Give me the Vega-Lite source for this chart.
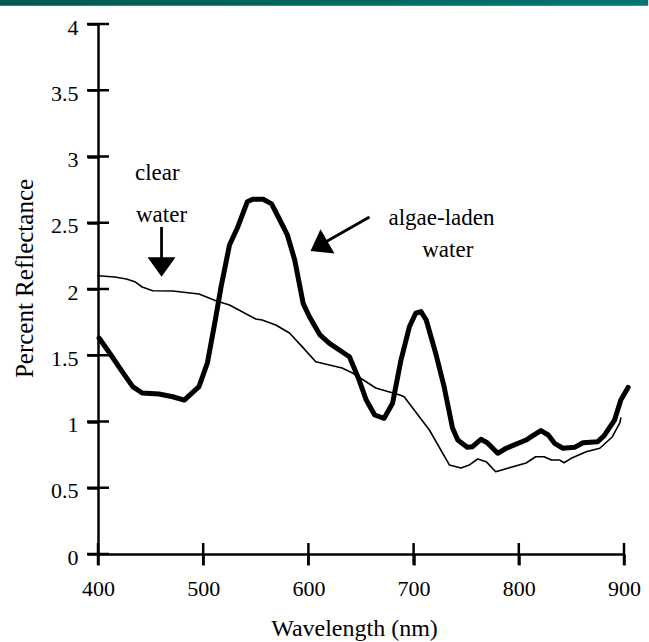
{
  "$schema": "https://vega.github.io/schema/vega-lite/v6.json",
  "width": 526,
  "height": 530,
  "autosize": {"type": "none"},
  "padding": {"left": 98, "top": 24, "right": 25, "bottom": 88},
  "background": "white",
  "config": {
    "view": {"stroke": null},
    "font": "Liberation Serif",
    "axis": {
      "labelFont": "Liberation Serif",
      "titleFont": "Liberation Serif",
      "labelColor": "black",
      "titleColor": "black",
      "domainColor": "black",
      "domainWidth": 2.5,
      "tickColor": "black",
      "tickWidth": 2.5,
      "tickSize": 11,
      "grid": false,
      "titleFontWeight": "normal"
    }
  },
  "datasets": {
    "spectra": [
      {"wavelength": 400, "reflectance": 2.10, "water": "clear water"},
      {"wavelength": 416, "reflectance": 2.09, "water": "clear water"},
      {"wavelength": 427, "reflectance": 2.075, "water": "clear water"},
      {"wavelength": 435, "reflectance": 2.055, "water": "clear water"},
      {"wavelength": 442, "reflectance": 2.015, "water": "clear water"},
      {"wavelength": 452, "reflectance": 1.987, "water": "clear water"},
      {"wavelength": 471, "reflectance": 1.985, "water": "clear water"},
      {"wavelength": 496, "reflectance": 1.962, "water": "clear water"},
      {"wavelength": 512, "reflectance": 1.912, "water": "clear water"},
      {"wavelength": 525, "reflectance": 1.879, "water": "clear water"},
      {"wavelength": 550, "reflectance": 1.774, "water": "clear water"},
      {"wavelength": 556, "reflectance": 1.766, "water": "clear water"},
      {"wavelength": 569, "reflectance": 1.728, "water": "clear water"},
      {"wavelength": 582, "reflectance": 1.668, "water": "clear water"},
      {"wavelength": 594, "reflectance": 1.565, "water": "clear water"},
      {"wavelength": 607, "reflectance": 1.451, "water": "clear water"},
      {"wavelength": 620, "reflectance": 1.426, "water": "clear water"},
      {"wavelength": 632, "reflectance": 1.404, "water": "clear water"},
      {"wavelength": 642, "reflectance": 1.366, "water": "clear water"},
      {"wavelength": 664, "reflectance": 1.253, "water": "clear water"},
      {"wavelength": 687, "reflectance": 1.2, "water": "clear water"},
      {"wavelength": 691, "reflectance": 1.187, "water": "clear water"},
      {"wavelength": 715, "reflectance": 0.936, "water": "clear water"},
      {"wavelength": 734, "reflectance": 0.672, "water": "clear water"},
      {"wavelength": 745, "reflectance": 0.649, "water": "clear water"},
      {"wavelength": 753, "reflectance": 0.672, "water": "clear water"},
      {"wavelength": 761, "reflectance": 0.717, "water": "clear water"},
      {"wavelength": 769, "reflectance": 0.697, "water": "clear water"},
      {"wavelength": 778, "reflectance": 0.621, "water": "clear water"},
      {"wavelength": 807, "reflectance": 0.687, "water": "clear water"},
      {"wavelength": 816, "reflectance": 0.734, "water": "clear water"},
      {"wavelength": 824, "reflectance": 0.734, "water": "clear water"},
      {"wavelength": 831, "reflectance": 0.709, "water": "clear water"},
      {"wavelength": 839, "reflectance": 0.709, "water": "clear water"},
      {"wavelength": 843, "reflectance": 0.689, "water": "clear water"},
      {"wavelength": 851, "reflectance": 0.727, "water": "clear water"},
      {"wavelength": 864, "reflectance": 0.772, "water": "clear water"},
      {"wavelength": 877, "reflectance": 0.798, "water": "clear water"},
      {"wavelength": 889, "reflectance": 0.885, "water": "clear water"},
      {"wavelength": 896, "reflectance": 0.989, "water": "clear water"},
      {"wavelength": 897, "reflectance": 1.026, "water": "clear water"},
      {"wavelength": 401, "reflectance": 1.63, "water": "algae-laden water"},
      {"wavelength": 411, "reflectance": 1.517, "water": "algae-laden water"},
      {"wavelength": 423, "reflectance": 1.376, "water": "algae-laden water"},
      {"wavelength": 433, "reflectance": 1.263, "water": "algae-laden water"},
      {"wavelength": 442, "reflectance": 1.215, "water": "algae-laden water"},
      {"wavelength": 458, "reflectance": 1.208, "water": "algae-laden water"},
      {"wavelength": 471, "reflectance": 1.187, "water": "algae-laden water"},
      {"wavelength": 482, "reflectance": 1.162, "water": "algae-laden water"},
      {"wavelength": 496, "reflectance": 1.263, "water": "algae-laden water"},
      {"wavelength": 504, "reflectance": 1.442, "water": "algae-laden water"},
      {"wavelength": 511, "reflectance": 1.743, "water": "algae-laden water"},
      {"wavelength": 517, "reflectance": 2.017, "water": "algae-laden water"},
      {"wavelength": 525, "reflectance": 2.332, "water": "algae-laden water"},
      {"wavelength": 533, "reflectance": 2.47, "water": "algae-laden water"},
      {"wavelength": 542, "reflectance": 2.659, "water": "algae-laden water"},
      {"wavelength": 547, "reflectance": 2.677, "water": "algae-laden water"},
      {"wavelength": 557, "reflectance": 2.677, "water": "algae-laden water"},
      {"wavelength": 565, "reflectance": 2.642, "water": "algae-laden water"},
      {"wavelength": 572, "reflectance": 2.534, "water": "algae-laden water"},
      {"wavelength": 580, "reflectance": 2.408, "water": "algae-laden water"},
      {"wavelength": 587, "reflectance": 2.219, "water": "algae-laden water"},
      {"wavelength": 595, "reflectance": 1.892, "water": "algae-laden water"},
      {"wavelength": 601, "reflectance": 1.791, "water": "algae-laden water"},
      {"wavelength": 611, "reflectance": 1.653, "water": "algae-laden water"},
      {"wavelength": 620, "reflectance": 1.59, "water": "algae-laden water"},
      {"wavelength": 639, "reflectance": 1.489, "water": "algae-laden water"},
      {"wavelength": 647, "reflectance": 1.338, "water": "algae-laden water"},
      {"wavelength": 655, "reflectance": 1.162, "water": "algae-laden water"},
      {"wavelength": 663, "reflectance": 1.049, "water": "algae-laden water"},
      {"wavelength": 672, "reflectance": 1.024, "water": "algae-laden water"},
      {"wavelength": 680, "reflectance": 1.137, "water": "algae-laden water"},
      {"wavelength": 688, "reflectance": 1.464, "water": "algae-laden water"},
      {"wavelength": 696, "reflectance": 1.715, "water": "algae-laden water"},
      {"wavelength": 702, "reflectance": 1.817, "water": "algae-laden water"},
      {"wavelength": 707, "reflectance": 1.829, "water": "algae-laden water"},
      {"wavelength": 712, "reflectance": 1.766, "water": "algae-laden water"},
      {"wavelength": 721, "reflectance": 1.515, "water": "algae-laden water"},
      {"wavelength": 729, "reflectance": 1.263, "water": "algae-laden water"},
      {"wavelength": 737, "reflectance": 0.951, "water": "algae-laden water"},
      {"wavelength": 742, "reflectance": 0.86, "water": "algae-laden water"},
      {"wavelength": 751, "reflectance": 0.805, "water": "algae-laden water"},
      {"wavelength": 756, "reflectance": 0.81, "water": "algae-laden water"},
      {"wavelength": 764, "reflectance": 0.866, "water": "algae-laden water"},
      {"wavelength": 770, "reflectance": 0.84, "water": "algae-laden water"},
      {"wavelength": 780, "reflectance": 0.76, "water": "algae-laden water"},
      {"wavelength": 788, "reflectance": 0.798, "water": "algae-laden water"},
      {"wavelength": 807, "reflectance": 0.86, "water": "algae-laden water"},
      {"wavelength": 813, "reflectance": 0.891, "water": "algae-laden water"},
      {"wavelength": 821, "reflectance": 0.931, "water": "algae-laden water"},
      {"wavelength": 828, "reflectance": 0.898, "water": "algae-laden water"},
      {"wavelength": 834, "reflectance": 0.835, "water": "algae-laden water"},
      {"wavelength": 842, "reflectance": 0.798, "water": "algae-laden water"},
      {"wavelength": 853, "reflectance": 0.805, "water": "algae-laden water"},
      {"wavelength": 861, "reflectance": 0.84, "water": "algae-laden water"},
      {"wavelength": 875, "reflectance": 0.848, "water": "algae-laden water"},
      {"wavelength": 881, "reflectance": 0.891, "water": "algae-laden water"},
      {"wavelength": 891, "reflectance": 1.011, "water": "algae-laden water"},
      {"wavelength": 897, "reflectance": 1.162, "water": "algae-laden water"},
      {"wavelength": 904, "reflectance": 1.258, "water": "algae-laden water"}
    ],
    "labels": [
      {"label": "clear", "wavelength": 456.4, "reflectance": 2.823},
      {"label": "water", "wavelength": 460.4, "reflectance": 2.508},
      {"label": "algae-laden", "wavelength": 726.5, "reflectance": 2.483},
      {"label": "water", "wavelength": 732.5, "reflectance": 2.239}
    ],
    "arrows": [
      {"wavelength": 460.4, "reflectance": 2.468, "wavelength2": 460.4, "reflectance2": 2.234, "angle": 0, "headW": 460.4, "headR": 2.166},
      {"wavelength": 658.1, "reflectance": 2.543, "wavelength2": 616.3, "reflectance2": 2.355, "angle": 60, "headW": 610.1, "headR": 2.323}
    ],
    "band": [
      {"wavelength": 306.4, "wavelength2": 923, "reflectance": 4.181, "reflectance2": 4.138}
    ],
    "yticks": [
      {"reflectance": 0}, {"reflectance": 0.5}, {"reflectance": 1}, {"reflectance": 1.5},
      {"reflectance": 2}, {"reflectance": 2.5}, {"reflectance": 3}, {"reflectance": 3.5}, {"reflectance": 4}
    ],
    "xticks": [
      {"wavelength": 400}, {"wavelength": 500}, {"wavelength": 600},
      {"wavelength": 700}, {"wavelength": 800}, {"wavelength": 900}
    ]
  },
  "layer": [
    {
      "data": {"name": "spectra"},
      "mark": {"type": "line", "color": "black", "strokeJoin": "round", "strokeCap": "round", "clip": false},
      "encoding": {
        "x": {
          "field": "wavelength", "type": "quantitative",
          "scale": {"domain": [400, 900], "nice": false, "zero": false},
          "axis": {
            "values": [400, 500, 600, 700, 800, 900],
            "title": "Wavelength (nm)",
            "labelFontSize": 22,
            "labelPadding": 30,
            "labelBaseline": "alphabetic",
            "labelFlush": false,
            "labelOverlap": false,
            "titleFontSize": 24,
            "titleX": 256,
            "titleY": 81,
            "titleBaseline": "alphabetic",
            "titleAlign": "center"
          }
        },
        "y": {
          "field": "reflectance", "type": "quantitative",
          "scale": {"domain": [0, 4], "nice": false},
          "axis": {
            "values": [0, 0.5, 1, 1.5, 2, 2.5, 3, 3.5, 4],
            "labelExpr": "'' + datum.value",
            "title": "Percent Reflectance",
            "labelFontSize": 22,
            "labelPadding": 9,
            "labelBaseline": "middle",
            "labelOffset": 3,
            "labelFlush": false,
            "labelOverlap": false,
            "titleFontSize": 25,
            "titleAngle": 270,
            "titleX": -66,
            "titleY": 254,
            "titleBaseline": "alphabetic",
            "titleAlign": "center"
          }
        },
        "detail": {"field": "water"},
        "strokeWidth": {
          "field": "water", "type": "nominal",
          "scale": {"domain": ["clear water", "algae-laden water"], "range": [1.6, 5]},
          "legend": null
        }
      }
    },
    {
      "data": {"name": "band"},
      "mark": {
        "type": "rect", "clip": false, "strokeWidth": 0,
        "color": {
          "gradient": "linear", "x1": 0, "x2": 1, "y1": 0, "y2": 0,
          "stops": [
            {"offset": 0, "color": "#00584c"},
            {"offset": 1, "color": "#00776f"}
          ]
        }
      },
      "encoding": {
        "x": {"field": "wavelength", "type": "quantitative"},
        "x2": {"field": "wavelength2"},
        "y": {"field": "reflectance", "type": "quantitative"},
        "y2": {"field": "reflectance2"}
      }
    },
    {
      "data": {"name": "arrows"},
      "mark": {"type": "rule", "color": "black", "strokeWidth": 2.8},
      "encoding": {
        "x": {"field": "wavelength", "type": "quantitative"},
        "y": {"field": "reflectance", "type": "quantitative"},
        "x2": {"field": "wavelength2"},
        "y2": {"field": "reflectance2"}
      }
    },
    {
      "data": {"name": "arrows"},
      "mark": {"type": "point", "shape": "M-1,-0.7L1,-0.7L0,0.7Z", "size": 784, "filled": true, "color": "black", "opacity": 1, "strokeWidth": 0},
      "encoding": {
        "x": {"field": "headW", "type": "quantitative"},
        "y": {"field": "headR", "type": "quantitative"},
        "angle": {"field": "angle", "type": "quantitative", "scale": null}
      }
    },
    {
      "data": {"name": "labels"},
      "mark": {"type": "text", "font": "Liberation Serif", "fontSize": 23, "color": "black", "align": "center", "baseline": "alphabetic"},
      "encoding": {
        "x": {"field": "wavelength", "type": "quantitative"},
        "y": {"field": "reflectance", "type": "quantitative"},
        "text": {"field": "label"}
      }
    },
    {
      "data": {"name": "yticks"},
      "mark": {"type": "tick", "orient": "horizontal", "size": 22, "thickness": 2.5, "color": "black", "opacity": 1},
      "encoding": {
        "x": {"datum": 400, "type": "quantitative"},
        "y": {"field": "reflectance", "type": "quantitative"}
      }
    },
    {
      "data": {"name": "xticks"},
      "mark": {"type": "tick", "orient": "vertical", "size": 22, "thickness": 2.5, "color": "black", "opacity": 1},
      "encoding": {
        "x": {"field": "wavelength", "type": "quantitative"},
        "y": {"datum": 0, "type": "quantitative"}
      }
    }
  ]
}
